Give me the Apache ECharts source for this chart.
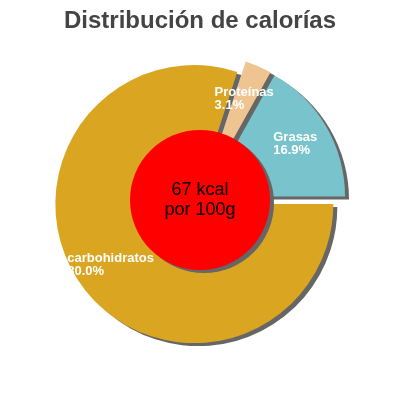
<!DOCTYPE html>
<html>
<head>
<meta charset="utf-8">
<script src="https://cdn.jsdelivr.net/npm/echarts@6/dist/echarts.min.js"></script>
<style>
  html, body { margin: 0; padding: 0; background: #fff; }
  #chart { width: 400px; height: 400px; }
</style>
</head>
<body>
<div id="chart"></div>
<script>
var categories = ['Grasas', 'Proteínas', 'carbohidratos'];
var percents = [16.9, 3.1, 80.0];
var sliceColors = ['#79C3CC', '#EEC591', '#DAA520'];
var centerLines = ['67 kcal', 'por 100g'];

var font = '"Liberation Sans", Arial, sans-serif';

var sliceData = categories.map(function (name, i) {
  return { name: name, value: percents[i], selected: true, itemStyle: { color: sliceColors[i] } };
});
var labelData = categories.map(function (name, i) {
  return { name: name, value: percents[i], selected: true };
});

var chart = echarts.init(document.getElementById('chart'));
chart.setOption({
  animation: false,
  title: {
    text: 'Distribución de calorías',
    left: 'center',
    top: 4,
    textStyle: { fontFamily: font, fontSize: 24, fontWeight: 'bold', color: '#444' }
  },
  series: [
    // slices
    {
      type: 'pie',
      z: 1,
      center: [200, 200],
      radius: [0, 139],
      startAngle: 0,
      clockwise: false,
      selectedMode: 'multiple',
      selectedOffset: 7,
      silent: true,
      label: { show: false },
      labelLine: { show: false },
      itemStyle: { shadowColor: '#666', shadowOffsetX: 4, shadowOffsetY: 3, shadowBlur: 0 },
      data: sliceData
    },
    // center circle
    {
      type: 'pie',
      z: 5,
      center: [200, 200],
      radius: [0, 70],
      silent: true,
      itemStyle: { color: '#FF0000', shadowColor: '#666', shadowOffsetX: 4, shadowOffsetY: 3, shadowBlur: 0 },
      label: {
        show: true,
        position: 'center',
        formatter: centerLines.join('\n'),
        fontFamily: font,
        fontSize: 18,
        lineHeight: 20,
        color: '#000'
      },
      labelLine: { show: false },
      data: [{ name: 'kcal', value: 1 }]
    },
    // labels only
    {
      type: 'pie',
      z: 6,
      center: [200, 200],
      radius: [62, 139],
      startAngle: 0,
      clockwise: false,
      selectedMode: 'multiple',
      selectedOffset: 7,
      silent: true,
      avoidLabelOverlap: false,
      itemStyle: { color: 'rgba(0,0,0,0)' },
      label: {
        show: true,
        position: 'inside',
        formatter: function (p) {
          return '{t|' + p.name + '}\n{t|' + p.value.toFixed(1) + '%}';
        },
        rich: {
          t: { fontFamily: font, fontSize: 13, fontWeight: 'bold', lineHeight: 13, color: '#fff', align: 'left' }
        }
      },
      labelLine: { show: false },
      data: labelData
    }
  ]
});
</script>
</body>
</html>
